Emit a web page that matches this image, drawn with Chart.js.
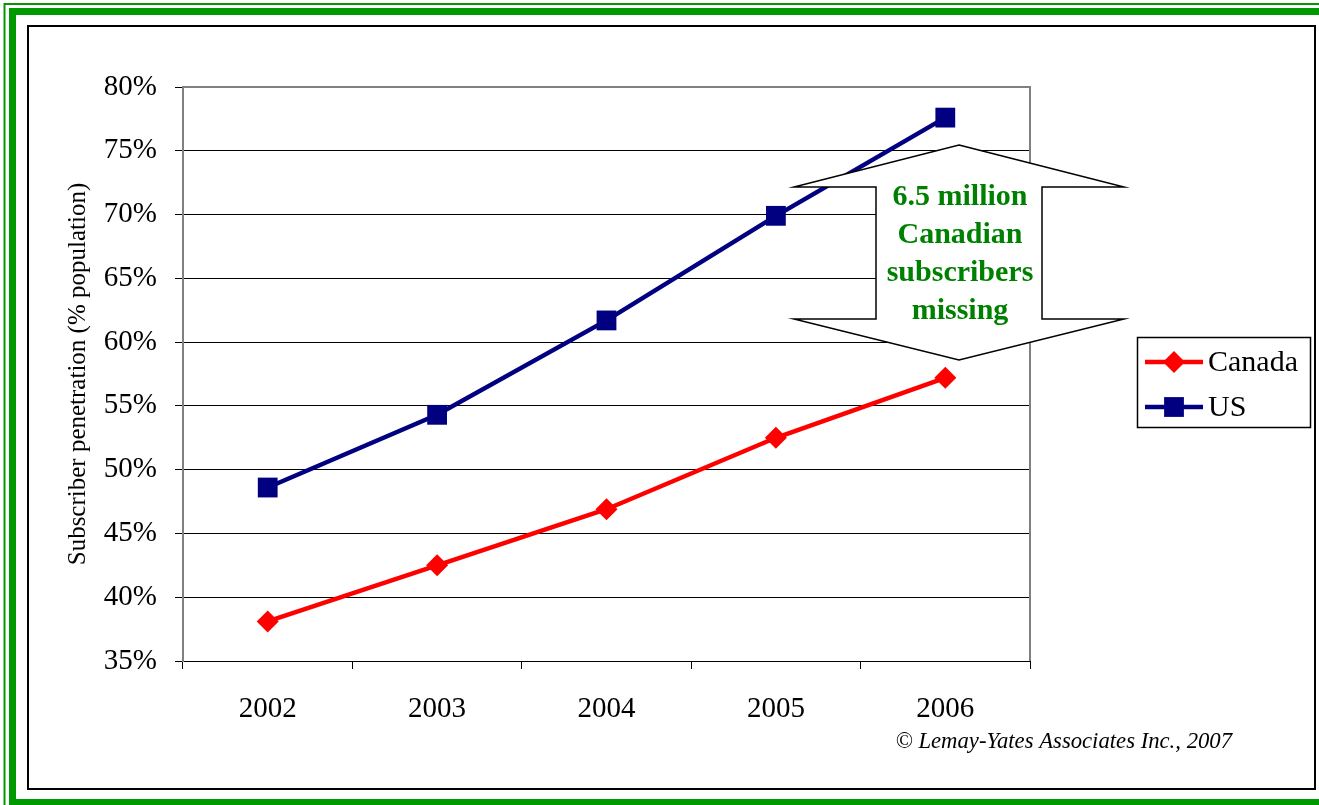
<!DOCTYPE html>
<html>
<head>
<meta charset="utf-8">
<title>Subscriber penetration: Canada vs US</title>
<script src="https://cdn.jsdelivr.net/npm/chart.js@4.4.1/dist/chart.umd.min.js"></script>
<style>
    html, body { margin: 0; padding: 0; background: #fff; }
    canvas { display: block; }
</style>
</head>
<body>
<canvas id="penetrationChart" width="1319" height="805"></canvas>
<script>
// data
const years = ['2002', '2003', '2004', '2005', '2006'];
const canadaValues = [38.1, 42.5, 46.9, 52.5, 57.2];
const usValues = [48.6, 54.3, 61.7, 69.9, 77.6];
const yTicks = [35, 40, 45, 50, 55, 60, 65, 70, 75, 80];
const calloutLines = ['6.5 million', 'Canadian', 'subscribers', 'missing'];

const SERIF = '"Liberation Serif", "Times New Roman", serif';
const FRAME_GREEN = '#009900';
const TEXT_GREEN = '#008000';

/**
 * draw a point marker the same way the series uses it
 */
function drawMarker(ctx, style, x, y, radius, color) {
    ctx.fillStyle = color;
    ctx.beginPath();
    if (style === 'rectRot') {
        ctx.moveTo(x - radius, y);
        ctx.lineTo(x, y - radius);
        ctx.lineTo(x + radius, y);
        ctx.lineTo(x, y + radius);
    } else {
        const half = radius * Math.SQRT1_2;
        ctx.rect(x - half, y - half, half * 2, half * 2);
    }
    ctx.closePath();
    ctx.fill();
}

/**
 * white page, green double frame, black inner box
 */
const framePlugin = {
    id: 'frame',
    beforeDraw(chart) {
        const { ctx, width, height } = chart;
        ctx.save();
        ctx.fillStyle = '#fff';
        ctx.fillRect(0, 0, width, height);

        ctx.strokeStyle = FRAME_GREEN;
        ctx.lineWidth = 2;
        ctx.strokeRect(4.5, 4, width + 20, height + 20);
        ctx.lineWidth = 7;
        ctx.strokeRect(12.5, 11.5, width + 20, 791);

        ctx.strokeStyle = '#000';
        ctx.lineWidth = 2;
        ctx.strokeRect(28, 26, 1287, 763);
        ctx.restore();
    },
    beforeDatasetsDraw(chart) {
        // gray plot border on top and right
        const { ctx, chartArea } = chart;
        ctx.save();
        ctx.strokeStyle = '#808080';
        ctx.lineWidth = 2;
        ctx.beginPath();
        ctx.moveTo(chartArea.left, chartArea.top);
        ctx.lineTo(chartArea.right, chartArea.top);
        ctx.lineTo(chartArea.right, chartArea.bottom);
        ctx.stroke();
        ctx.restore();
    }
};

/**
 * double-headed arrow callout, legend box and copyright line
 */
const overlayPlugin = {
    id: 'overlay',
    afterDraw(chart) {
        const { ctx } = chart;
        ctx.save();

        // callout arrow
        const pts = [
            [959, 145], [1124, 187], [1042, 187], [1042, 319], [1124, 319],
            [959, 360], [794, 319], [876, 319], [876, 187], [794, 187]
        ];
        ctx.beginPath();
        pts.forEach((p, i) => i ? ctx.lineTo(p[0], p[1]) : ctx.moveTo(p[0], p[1]));
        ctx.closePath();
        ctx.fillStyle = '#fff';
        ctx.fill();
        ctx.strokeStyle = '#000';
        ctx.lineWidth = 1.5;
        ctx.stroke();

        ctx.fillStyle = TEXT_GREEN;
        ctx.font = 'bold 30px ' + SERIF;
        ctx.textAlign = 'center';
        ctx.textBaseline = 'alphabetic';
        calloutLines.forEach((line, i) => {
            ctx.fillText(line, 960, 205 + i * 38);
        });

        // legend
        ctx.fillStyle = '#fff';
        ctx.fillRect(1137, 337, 173, 91);
        ctx.strokeStyle = '#000';
        ctx.lineWidth = 1.5;
        ctx.strokeRect(1137.5, 337.5, 173, 90);
        ctx.font = '30px ' + SERIF;
        ctx.textAlign = 'left';
        ctx.textBaseline = 'middle';
        chart.data.datasets.forEach((ds, i) => {
            const y = 362 + i * 45;
            ctx.strokeStyle = ds.borderColor;
            ctx.lineWidth = 4.5;
            ctx.beginPath();
            ctx.moveTo(1145, y);
            ctx.lineTo(1203, y);
            ctx.stroke();
            drawMarker(ctx, ds.pointStyle, 1174, y, ds.pointRadius, ds.borderColor);
            ctx.fillStyle = '#000';
            ctx.fillText(ds.label, 1208, y + 1);
        });

        // copyright
        ctx.fillStyle = '#000';
        ctx.font = 'italic 22.7px ' + SERIF;
        ctx.textAlign = 'right';
        ctx.textBaseline = 'alphabetic';
        ctx.fillText('\u00A9 Lemay-Yates Associates Inc., 2007', 1232, 748);

        ctx.restore();
    }
};

const ctx = document.getElementById('penetrationChart').getContext('2d');

new Chart(ctx, {
    type: 'line',
    data: {
        labels: years,
        datasets: [
            {
                label: 'Canada',
                data: canadaValues,
                borderColor: '#ff0000',
                backgroundColor: '#ff0000',
                borderWidth: 4.5,
                pointStyle: 'rectRot',
                pointRadius: 11,
                pointBorderWidth: 0,
                tension: 0
            },
            {
                label: 'US',
                data: usValues,
                borderColor: '#000080',
                backgroundColor: '#000080',
                borderWidth: 4.5,
                pointStyle: 'rect',
                pointRadius: 14,
                pointBorderWidth: 0,
                tension: 0
            }
        ]
    },
    options: {
        responsive: false,
        animation: false,
        devicePixelRatio: 1,
        layout: {
            padding: { left: 28, top: 87, right: 289, bottom: 44 }
        },
        plugins: {
            legend: { display: false },
            tooltip: { enabled: false }
        },
        scales: {
            x: {
                offset: true,
                afterFit(scale) { scale.height = 100; },
                grid: {
                    offset: true,
                    drawOnChartArea: false,
                    drawTicks: true,
                    tickLength: 8,
                    tickColor: '#000',
                    tickWidth: 1
                },
                border: { color: '#000', width: 1 },
                ticks: {
                    color: '#000',
                    padding: 23,
                    maxRotation: 0,
                    font: { family: SERIF, size: 29 }
                }
            },
            y: {
                min: yTicks[0],
                max: yTicks[yTicks.length - 1],
                afterFit(scale) { scale.width = 155; },
                afterBuildTicks(scale) {
                    scale.ticks = yTicks.map(v => ({ value: v }));
                },
                grid: {
                    color: c => c.tick && c.tick.value === yTicks[yTicks.length - 1] ? 'rgba(0,0,0,0)' : '#000',
                    lineWidth: 1,
                    tickLength: 8,
                    tickColor: '#000'
                },
                border: { color: '#808080', width: 2 },
                ticks: {
                    color: '#000',
                    padding: 18,
                    font: { family: SERIF, size: 29 },
                    callback: v => v + '%'
                },
                title: {
                    display: true,
                    text: 'Subscriber penetration (% population)',
                    color: '#000',
                    padding: { top: 35, bottom: 0 },
                    font: { family: SERIF, size: 25 }
                }
            }
        }
    },
    plugins: [framePlugin, overlayPlugin]
});
</script>
</body>
</html>
